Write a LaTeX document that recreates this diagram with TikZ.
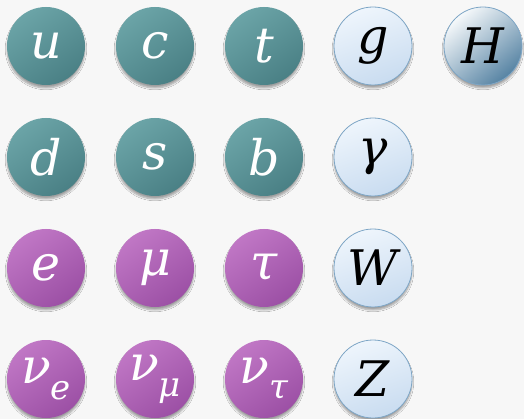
\documentclass[tikz,border=0pt]{standalone}
\usepackage{fontspec}
\newfontfamily\pf{DejaVu Serif}
\usetikzlibrary{shadows.blur}
\definecolor{bgc}{HTML}{F7F7F7}
\definecolor{tealL}{HTML}{6BA4A7}
\definecolor{tealD}{HTML}{4A8085}
\definecolor{purL}{HTML}{C077C5}
\definecolor{purD}{HTML}{9C50A5}
\definecolor{blueL}{HTML}{EEF5FC}
\definecolor{blueD}{HTML}{C9DCF0}
\definecolor{blueE}{HTML}{7EA6C6}
\definecolor{higgsL}{HTML}{F6F9FB}
\definecolor{higgsD}{HTML}{5683A3}
\tikzset{
  ball/.style={circle, minimum size=78pt, inner sep=0pt, font=\pf\itshape\fontsize{49}{49}\selectfont,
    blur shadow={shadow xshift=0pt, shadow yshift=-3pt, shadow blur steps=6, shadow opacity=35}},
  quark/.style={ball, top color=tealL, bottom color=tealD, shading angle=35, text=white},
  lepton/.style={ball, top color=purL, bottom color=purD, shading angle=35, text=white},
  boson/.style={ball, draw=blueE, line width=0.8pt, top color=blueL, bottom color=blueD, shading angle=20, text=black},
  higgs/.style={ball, draw=blueE, line width=0.8pt, top color=higgsL, bottom color=higgsD, shading angle=40, text=black},
}
\newcommand{\sbx}[1]{\raisebox{-0.32em}{\fontsize{34}{34}\selectfont #1}}
\begin{document}
\begin{tikzpicture}[x=1pt,y=-1pt]
\fill[bgc] (0,0) rectangle (524,419);
\useasboundingbox (0,0) rectangle (524,419);
\node[quark] (u) at (46,46) {u};
\node[quark] (c) at (155,46) {c};
\node[quark] (t) at (264,46) {t};
\node[boson] (g) at (373,46) {g};
\node[higgs] (H) at (483,46) {H};
\node[quark] (d) at (46,157) {d};
\node[quark] (s) at (155,157) {s};
\node[quark] (b) at (264,157) {b};
\node[boson] (gam) at (373,157) {γ};
\node[lepton] (e) at (46,268) {e};
\node[lepton] (mu) at (155,268) {μ};
\node[lepton] (tau) at (264,268) {τ};
\node[boson] (W) at (373,268) {W};
\node[lepton] (nue) at (46,379) {ν\sbx{e}};
\node[lepton] (numu) at (155,379) {ν\sbx{μ}};
\node[lepton] (nutau) at (264,379) {ν\sbx{τ}};
\node[boson] (Z) at (373,379) {Z};
\end{tikzpicture}
\end{document}
